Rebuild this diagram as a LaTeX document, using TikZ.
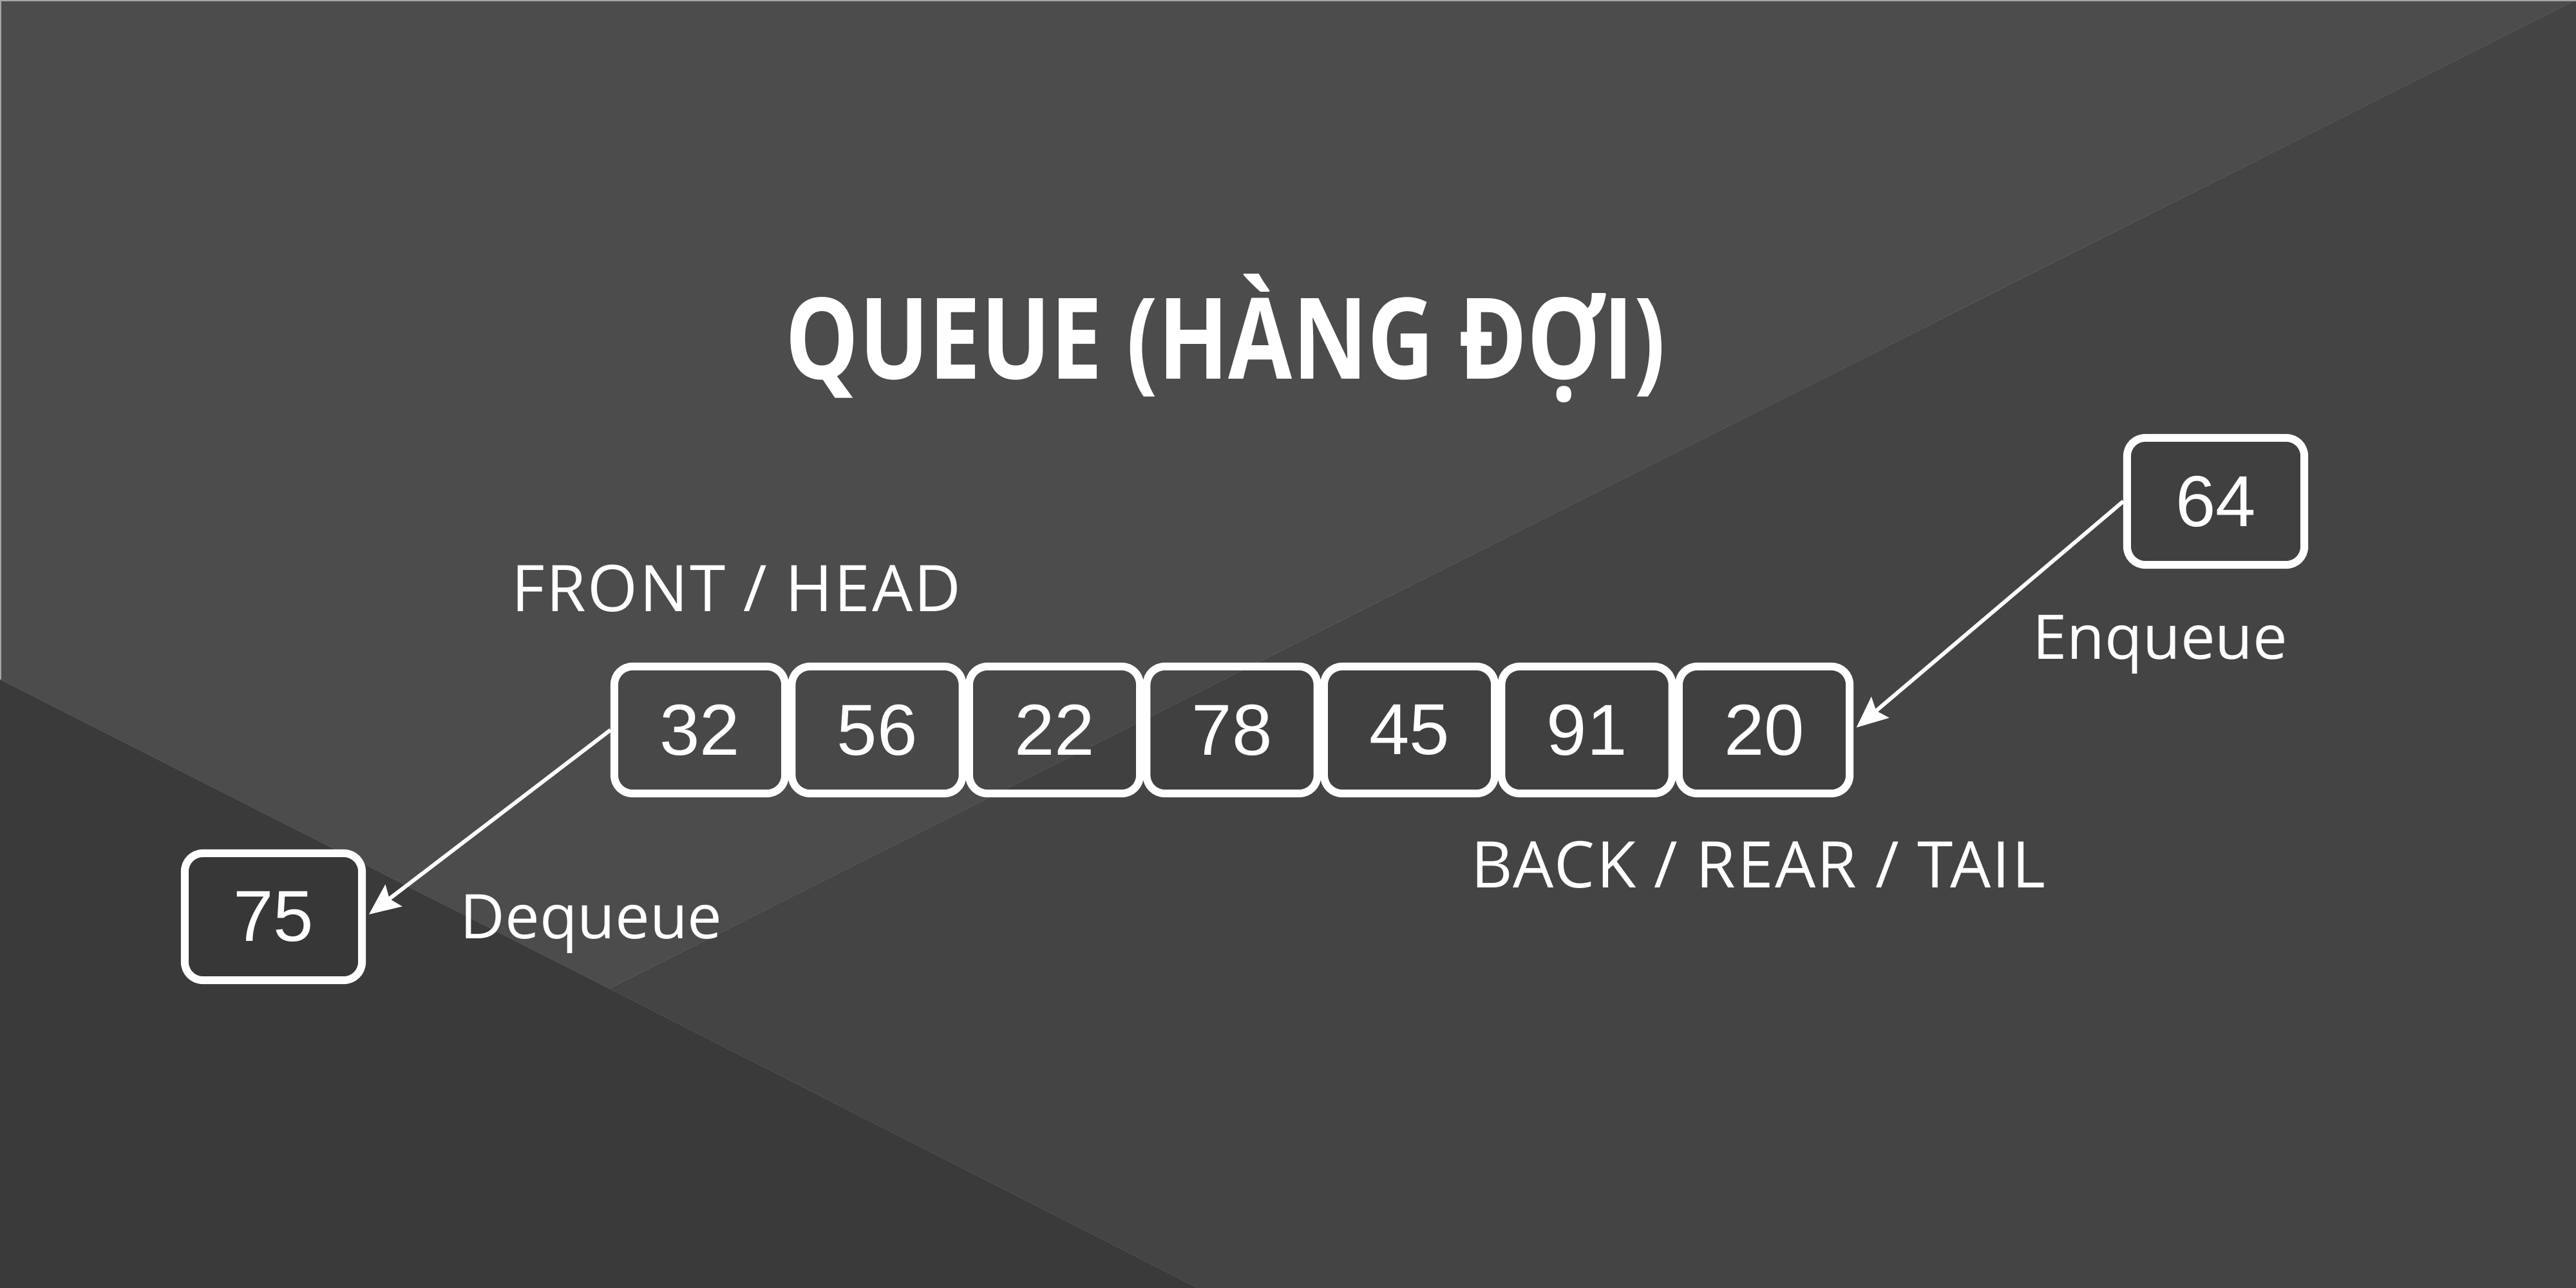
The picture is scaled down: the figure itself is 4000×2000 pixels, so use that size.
\documentclass[tikz,border=0pt]{standalone}
\usepackage{fontspec}
\setmainfont{Open Sans}
\newfontfamily\numfont{Liberation Sans}
\newfontfamily\titlefont{Open Sans}[FakeStretch=0.82]
\newfontfamily\capsfont{Open Sans}[LetterSpace=2.5]
\usetikzlibrary{arrows.meta}
\definecolor{bgtl}{HTML}{4C4C4C}
\definecolor{bgr}{HTML}{444444}
\definecolor{bgbl}{HTML}{3A3A3A}
\begin{document}
\begin{tikzpicture}[x=0.01cm,y=-0.01cm,
  qbox/.style={draw=white, line width=1.2mm, rounded corners=2.8mm,
    minimum width=26.5mm, minimum height=19.7mm, inner sep=0pt,
    fill=black, fill opacity=0.05, text opacity=1, text=white,
    font=\numfont\fontsize{31.9}{36}\selectfont},
  wbox/.style={qbox, minimum width=27.5mm},
  lbl/.style={text=white, inner sep=0pt, anchor=base west,
    font=\capsfont\fontsize{28.4}{34}\selectfont},
  slbl/.style={lbl, font=\fontsize{27.2}{32}\selectfont},
  ttl/.style={text=white, inner sep=0pt, anchor=base,
    font=\titlefont\bfseries\fontsize{49.8}{60}\selectfont},
  conn/.style={draw=white, line width=0.6mm, shorten >=0.6mm,
    -{Stealth[length=4.8mm,width=4.2mm,inset=0.8mm]}}]
\useasboundingbox (0,0) rectangle (4000,2000);
% background
\fill[bgtl] (0,0) -- (4000,0) -- (946,1535) -- (0,1055) -- cycle;
\fill[bgr] (4000,0) -- (4000,2000) -- (1860,2000) -- (946,1535) -- cycle;
\fill[bgbl] (0,1055) -- (946,1535) -- (1860,2000) -- (0,2000) -- cycle;
\draw[gray!70, line width=0.25mm] (0,1) -- (4000,1);
\draw[gray!70, line width=0.25mm] (1,0) -- (1,1055);
% title
\node[ttl] (title) at (1903,588) {QUEUE (HÀNG ĐỢI)};
% queue
\node[qbox] (q1) at (1086.5,1133.5) {32};
\node[qbox] (q2) at (1362,1133.5) {56};
\node[qbox] (q3) at (1637.5,1133.5) {22};
\node[qbox] (q4) at (1913,1133.5) {78};
\node[qbox] (q5) at (2188.5,1133.5) {45};
\node[qbox] (q6) at (2464,1133.5) {91};
\node[qbox] (q7) at (2739.5,1133.5) {20};
\node[wbox] (n64) at (3440.5,778.5) {64};
\node[wbox] (n75) at (424.5,1423.5) {75};
% labels
\node[lbl] (front) at (794,949) {FRONT / HEAD};
\node[lbl] (back) at (2284,1378) {BACK / REAR / TAIL};
\node[slbl] (enq) at (3156,1023) {Enqueue};
\node[slbl] (deq) at (714,1457) {Dequeue};
% connectors
\draw[conn] (n64.west) -- (q7.east);
\draw[conn] (q1.west) -- (n75.east);
\end{tikzpicture}
\end{document}
